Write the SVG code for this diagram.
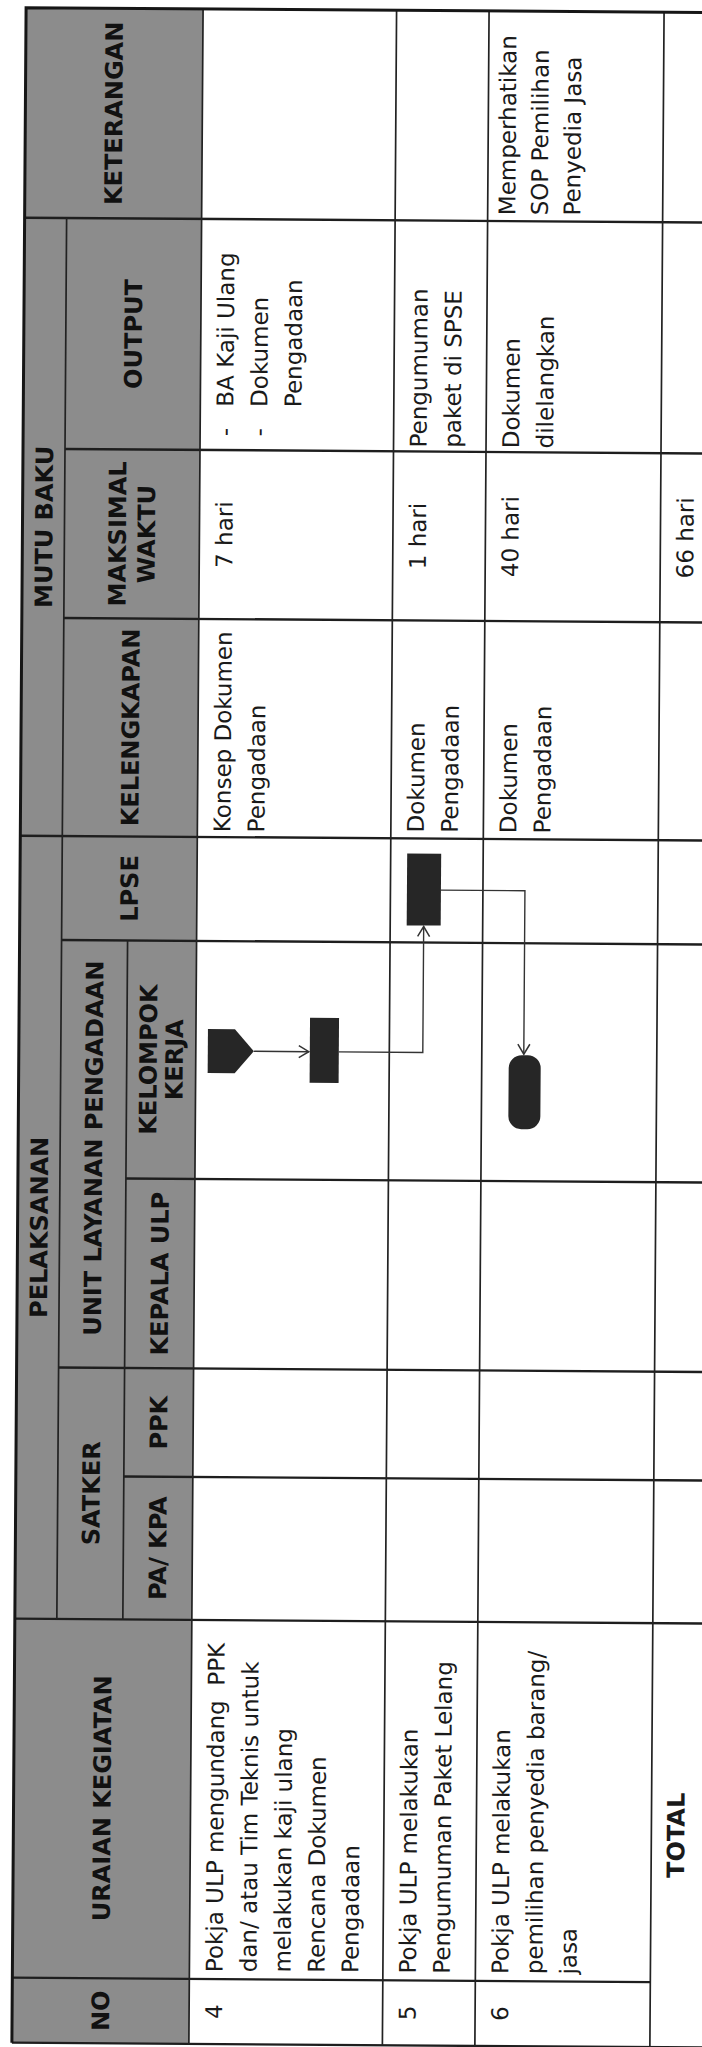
<svg xmlns="http://www.w3.org/2000/svg" width="702" height="2047" viewBox="0 0 702 2047">
<style>
.hdr{fill:#8c8c8c}
.ln{stroke:#1e1e1e;stroke-width:2.4;fill:none}
.lv{stroke:#222;stroke-width:1.7;fill:none}
.lo{stroke:#161616;stroke-width:3;fill:none}
.h{font-family:"DejaVu Sans",Verdana,sans-serif;font-weight:bold;font-size:24px;fill:#111;text-anchor:middle}
.t{font-family:"DejaVu Sans",Verdana,sans-serif;font-size:23px;fill:#1a1a1a}
.m{text-anchor:middle}
.tb{font-weight:bold;font-size:24px}
.shape{fill:#262626}
.conn{stroke:#333;stroke-width:1.4;fill:none}
</style>
<defs>
<marker id="arr" markerUnits="userSpaceOnUse" markerWidth="14" markerHeight="16" refX="11" refY="7" orient="auto">
<path d="M1,1 L11,7 L1,13" fill="none" stroke="#333" stroke-width="1.5"/>
</marker>
</defs>
<rect width="702" height="2047" fill="#ffffff"/>
<g transform="rotate(0.4 351 1024)">
<g id="header-bg"><rect class="hdr" x="19" y="10" width="177" height="2035"/></g>
<g id="grid">
<path class="ln" d="M19,220H712 M61,451H712 M61,620H712 M19,838H712 M61,942H712 M127,1180H712 M61,1369.5H712 M127,1478H712 M19,1621H712 M19,1980H657 M19,2045H712"/>
<path class="lv" d="M61,220V1621 M127,942V1621 M196,10V2045 M389.5,10V2045 M482,10V2045 M657,10V2045"/>
<path class="lo" d="M19,2045V10H712"/>
</g>
<g id="header-keterangan"><text class="h" transform="translate(116,115) rotate(-90)">KETERANGAN</text></g>
<g id="header-mutu-baku"><text class="h" transform="translate(49,529) rotate(-90)">MUTU BAKU</text></g>
<g id="header-output"><text class="h" transform="translate(137,335.5) rotate(-90)">OUTPUT</text></g>
<g id="header-maksimal-waktu"><text class="h" transform="translate(122.5,535.5) rotate(-90)"><tspan x="0" y="0">MAKSIMAL</tspan><tspan x="0" y="29">WAKTU</tspan></text></g>
<g id="header-kelengkapan"><text class="h" transform="translate(137,729) rotate(-90)">KELENGKAPAN</text></g>
<g id="header-pelaksanan"><text class="h" transform="translate(49,1229.5) rotate(-90)">PELAKSANAN</text></g>
<g id="header-lpse"><text class="h" transform="translate(137,890) rotate(-90)">LPSE</text></g>
<g id="header-ulp"><text class="h" transform="translate(103,1150) rotate(-90)">UNIT LAYANAN PENGADAAN</text></g>
<g id="header-kelompok-kerja"><text class="h" transform="translate(157,1061) rotate(-90)"><tspan x="0" y="0">KELOMPOK</tspan><tspan x="0" y="26">KERJA</tspan></text></g>
<g id="header-kepala-ulp"><text class="h" transform="translate(170,1275) rotate(-90)">KEPALA ULP</text></g>
<g id="header-satker"><text class="h" transform="translate(103,1495) rotate(-90)">SATKER</text></g>
<g id="header-ppk"><text class="h" transform="translate(170,1424) rotate(-90)">PPK</text></g>
<g id="header-pa-kpa"><text class="h" transform="translate(170,1549.5) rotate(-90)">PA/ KPA</text></g>
<g id="header-uraian"><text class="h" transform="translate(116,1800) rotate(-90)">URAIAN KEGIATAN</text></g>
<g id="header-no"><text class="h" transform="translate(116,2012.5) rotate(-90)">NO</text></g>
<g id="row-4">
<text class="t m" transform="translate(229,2012.5) rotate(-90)">4</text>
<text class="t" transform="translate(229,1973) rotate(-90)" style="white-space:pre"><tspan x="0" y="0">Pokja ULP mengundang  PPK</tspan><tspan x="0" y="34">dan/ atau Tim Teknis untuk</tspan><tspan x="0" y="68">melakukan kaji ulang</tspan><tspan x="0" y="102">Rencana Dokumen</tspan><tspan x="0" y="136">Pengadaan</tspan></text>
<text class="t" transform="translate(229,833) rotate(-90)"><tspan x="0" y="0">Konsep Dokumen</tspan><tspan x="0" y="34">Pengadaan</tspan></text>
<text class="t m" transform="translate(229,535.5) rotate(-90)">7 hari</text>
<text class="t" transform="translate(229,437) rotate(-90)"><tspan x="0" y="0">-</tspan><tspan x="29.5" y="0">BA Kaji Ulang</tspan><tspan x="0" y="34">-</tspan><tspan x="29.5" y="34">Dokumen</tspan><tspan x="29.5" y="68">Pengadaan</tspan></text>
</g>
<g id="row-5">
<text class="t m" transform="translate(422.5,2012.5) rotate(-90)">5</text>
<text class="t" transform="translate(422.5,1973) rotate(-90)"><tspan x="0" y="0">Pokja ULP melakukan</tspan><tspan x="0" y="34">Pengumuman Paket Lelang</tspan></text>
<text class="t" transform="translate(422.5,832) rotate(-90)"><tspan x="0" y="0">Dokumen</tspan><tspan x="0" y="34">Pengadaan</tspan></text>
<text class="t m" transform="translate(422.5,535.5) rotate(-90)">1 hari</text>
<text class="t" transform="translate(422.5,447) rotate(-90)"><tspan x="0" y="0">Pengumuman</tspan><tspan x="0" y="34">paket di SPSE</tspan></text>
</g>
<g id="row-6">
<text class="t m" transform="translate(515,2012.5) rotate(-90)">6</text>
<text class="t" transform="translate(515,1973) rotate(-90)"><tspan x="0" y="0">Pokja ULP melakukan</tspan><tspan x="0" y="34">pemilihan penyedia barang/</tspan><tspan x="0" y="68">jasa</tspan></text>
<text class="t" transform="translate(515,832) rotate(-90)"><tspan x="0" y="0">Dokumen</tspan><tspan x="0" y="34">Pengadaan</tspan></text>
<text class="t m" transform="translate(515,535.5) rotate(-90)">40 hari</text>
<text class="t" transform="translate(515,447) rotate(-90)"><tspan x="0" y="0">Dokumen</tspan><tspan x="0" y="34">dilelangkan</tspan></text>
<text class="t" transform="translate(509.5,214) rotate(-90)"><tspan x="0" y="0">Memperhatikan</tspan><tspan x="0" y="32.5">SOP Pemilihan</tspan><tspan x="0" y="65">Penyedia Jasa</tspan></text>
</g>
<g id="row-total">
<text class="t m tb" transform="translate(690,1833) rotate(-90)">TOTAL</text>
<text class="t m" transform="translate(690,535.5) rotate(-90)">66 hari</text>
</g>
<g id="connectors">
<path class="conn" d="M254,1052H309" marker-end="url(#arr)"/>
<path class="conn" d="M339,1052H423V926" marker-end="url(#arr)"/>
<path class="conn" d="M440,889.5H524V1053" marker-end="url(#arr)"/>
</g>
<g id="node-start"><polygon class="shape" points="208,1030 235,1030 254,1052 235,1074 208,1074"/></g>
<g id="node-pokja-process"><rect class="shape" x="310" y="1018" width="29" height="65"/></g>
<g id="node-lpse-process"><rect class="shape" x="406" y="853" width="34" height="72"/></g>
<g id="node-end"><rect class="shape" x="509" y="1054" width="32" height="74" rx="13" ry="13"/></g>
</g>
</svg>
